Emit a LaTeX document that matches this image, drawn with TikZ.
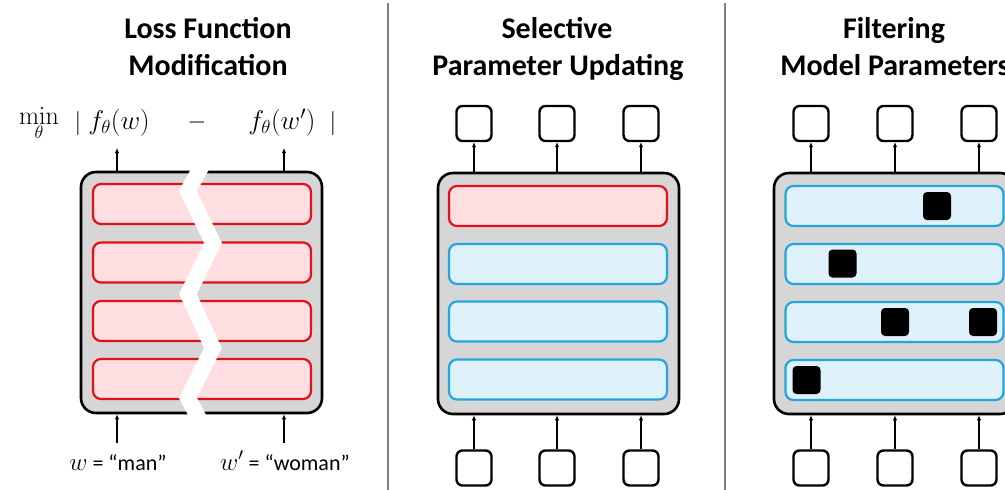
\documentclass[tikz,border=0pt]{standalone}
\usepackage{fix-cm}
\usepackage[no-math]{fontspec}
\setmainfont{Carlito}
\usetikzlibrary{arrows.meta}

\definecolor{boxgray}{HTML}{D6D6D6}
\definecolor{redfill}{HTML}{FFDEE2}
\definecolor{redline}{HTML}{E3101C}
\definecolor{bluefill}{HTML}{DFF1FB}
\definecolor{blueline}{HTML}{22A6E0}
\definecolor{divgray}{HTML}{808080}

\tikzset{
  outerbox/.style={draw=black, line width=2.6pt, fill=boxgray, rounded corners=15pt,
    minimum width=241pt, minimum height=241pt, inner sep=0pt},
  redbar/.style={draw=redline, line width=2.2pt, fill=redfill, rounded corners=8pt,
    minimum width=218pt, minimum height=40pt, inner sep=0pt},
  bluebar/.style={draw=blueline, line width=2.2pt, fill=bluefill, rounded corners=8pt,
    minimum width=218pt, minimum height=40pt, inner sep=0pt},
  port/.style={draw=black, line width=2.4pt, fill=white, rounded corners=6pt,
    minimum size=35pt, inner sep=0pt},
  cell/.style={fill=black, rounded corners=4pt, minimum size=28pt, inner sep=0pt},
  arr/.style={-{Latex[length=5pt,width=4.5pt]}, line width=1.2pt},
  divider/.style={draw=divgray, line width=2pt},
  title/.style={font=\fontsize{30}{36}\selectfont\bfseries, anchor=base, inner sep=0pt},
  mathlbl/.style={font=\fontsize{24}{28}\selectfont, anchor=base, inner sep=0pt},
  funclbl/.style={font=\fontsize{27}{31}\selectfont, anchor=base, inner sep=0pt},
  wordlbl/.style={font=\fontsize{22}{26}\selectfont, anchor=base, inner sep=0pt},
}

\begin{document}
\begin{tikzpicture}[x=1pt, y=-1pt]
\useasboundingbox (0,0) rectangle (1005,490);
\clip (0,0) rectangle (1005,490);

% panel separators
\draw[divider] (388,3) -- (388,490);
\draw[divider] (725,3) -- (725,490);

% ---------- titles ----------
\node[title] (t1a) at (208,38) {Loss Function};
\node[title] (t1b) at (208,75) {Modification};
\node[title] (t2a) at (557,38) {Selective};
\node[title] (t2b) at (558,75) {Parameter Updating};
\node[title] (t3a) at (894,38) {Filtering};
\node[title] (t3b) at (895,75) {Model Parameters};

% ---------- panel 1: loss function modification ----------
\node[outerbox] (p1) at (201.5,292.5) {};
\node[redbar] (r11) at (202,204) {};
\node[redbar] (r12) at (202,262.5) {};
\node[redbar] (r13) at (202,321) {};
\node[redbar] (r14) at (202,379) {};

% the cut through the layers
\draw[white, line width=16pt, line join=miter]
  (206,158) -- (188,191) -- (213,243) -- (188,294) -- (213,348) -- (188,398) -- (204,428);

% objective
\node[mathlbl, font=\fontsize{26}{30}\selectfont] (mn) at (39,124) {$\displaystyle\min_{\theta}$};
\node[mathlbl] (v1) at (78,129) {$|$};
\node[funclbl] (f1) at (119,129) {$f_{\theta}(w)$};
\node[mathlbl] (mi) at (197,128) {$-$};
\node[funclbl] (f2) at (282,129) {$f_{\theta}(w')$};
\node[mathlbl] (v2) at (333,129) {$|$};

\coordinate (o1) at (117,148);
\coordinate (o2) at (284,148);
\draw[arr] (p1.north -| o1) -- (o1);
\draw[arr] (p1.north -| o2) -- (o2);

% inputs
\node[wordlbl] (w1) at (118,470) {{\fontsize{25}{29}\selectfont$w$} = “man”};
\node[wordlbl] (w2) at (285,470) {{\fontsize{25}{29}\selectfont$w'$} = “woman”};
\coordinate (i1) at (117,443);
\coordinate (i2) at (284,443);
\draw[arr] (i1) -- (p1.south -| i1);
\draw[arr] (i2) -- (p1.south -| i2);

% ---------- panel 2: selective parameter updating ----------
\node[outerbox] (p2) at (558.5,293.5) {};
\node[redbar] (r21) at (558,206) {};
\node[bluebar] (r22) at (558,264) {};
\node[bluebar] (r23) at (558,321.5) {};
\node[bluebar] (r24) at (558,379.5) {};

\node[port] (a21) at (474,123.5) {};
\node[port] (a22) at (557,123.5) {};
\node[port] (a23) at (641,123.5) {};
\node[port] (b21) at (474,468) {};
\node[port] (b22) at (557,468) {};
\node[port] (b23) at (641,468) {};

\foreach \k in {1,2,3}{
  \draw[arr] (p2.north -| a2\k) -- (a2\k.south);
  \draw[arr] (b2\k.north) -- (p2.south -| b2\k);
}

% ---------- panel 3: filtering model parameters ----------
\node[outerbox] (p3) at (894.5,293.5) {};
\node[bluebar] (r31) at (894.5,206) {};
\node[bluebar] (r32) at (894.5,264) {};
\node[bluebar] (r33) at (894.5,322) {};
\node[bluebar] (r34) at (894.5,380) {};

\node[cell] (k1) at (937,206) {};
\node[cell] (k2) at (842.5,263.5) {};
\node[cell] (k3) at (895,322) {};
\node[cell] (k4) at (983,322) {};
\node[cell] (k5) at (806.5,380) {};

\node[port] (a31) at (811,123.5) {};
\node[port] (a32) at (895,123.5) {};
\node[port] (a33) at (979,123.5) {};
\node[port] (b31) at (811,468) {};
\node[port] (b32) at (895,468) {};
\node[port] (b33) at (979,468) {};

\foreach \k in {1,2,3}{
  \draw[arr] (p3.north -| a3\k) -- (a3\k.south);
  \draw[arr] (b3\k.north) -- (p3.south -| b3\k);
}
\end{tikzpicture}
\end{document}
